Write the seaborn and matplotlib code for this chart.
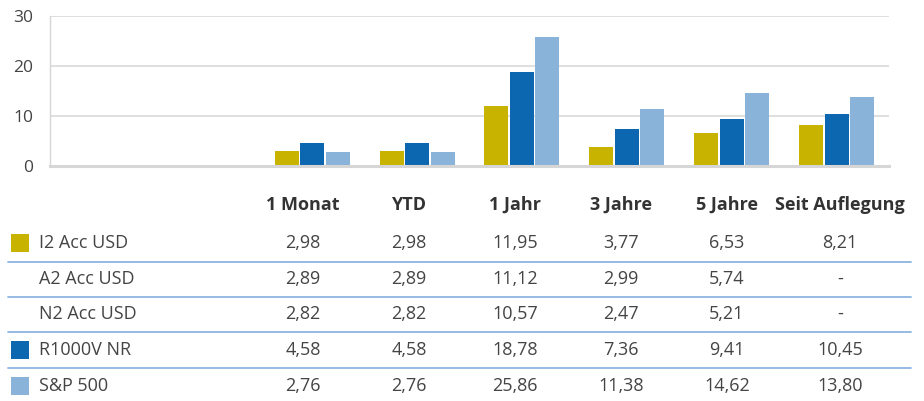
import matplotlib
matplotlib.use("Agg")
import matplotlib.pyplot as plt
import matplotlib.patches as mpatches
import seaborn as sns
import pandas as pd
import numpy as np

# ---------------- data ----------------
periods = ["1 Monat", "YTD", "1 Jahr", "3 Jahre", "5 Jahre", "Seit Auflegung"]
series_names = ["I2 Acc USD", "A2 Acc USD", "N2 Acc USD", "R1000V NR", "S&P 500"]
i2_acc = [2.98, 2.98, 11.95, 3.77, 6.53, 8.21]
a2_acc = [2.89, 2.89, 11.12, 2.99, 5.74, None]
n2_acc = [2.82, 2.82, 10.57, 2.47, 5.21, None]
r1000v = [4.58, 4.58, 18.78, 7.36, 9.41, 10.45]
sp500 = [2.76, 2.76, 25.86, 11.38, 14.62, 13.80]
charted = ["I2 Acc USD", "R1000V NR", "S&P 500"]
yticks = [0, 10, 20, 30]

colors = {"I2 Acc USD": "#C8B400", "R1000V NR": "#0C66B0", "S&P 500": "#8AB3DA"}
values = {"I2 Acc USD": i2_acc, "A2 Acc USD": a2_acc, "N2 Acc USD": n2_acc,
          "R1000V NR": r1000v, "S&P 500": sp500}

rows = []
for s in charted:
    for p, v in zip(periods, values[s]):
        rows.append({"period": p, "series": s, "value": v})
df = pd.DataFrame(rows)

# ---------------- figure ----------------
sns.set_theme(style="white")
plt.rcParams["font.family"] = ["Open Sans", "DejaVu Sans"]

W, H = 924, 401
fig = plt.figure(figsize=(W / 100, H / 100), dpi=100)

# bar axes (pixel layout)
x0, x1, ytop, ybot = 50, 889, 16, 166
ax = fig.add_axes([x0 / W, 1 - ybot / H, (x1 - x0) / W, (ybot - ytop) / H])

order = ["", " "] + periods
sns.barplot(data=df, x="period", y="value", hue="series", order=order,
            hue_order=charted, palette=colors, width=0.73, gap=0.06,
            saturation=1, edgecolor="none", linewidth=0, ax=ax, legend=False)

ax.set_ylim(0, 30)
ax.set_xlim(-0.5, len(order) - 0.5)
ax.set_yticks(yticks)
ax.set_yticklabels([str(t) for t in yticks], fontsize=12.5, color="#444444")
ax.tick_params(axis="y", length=0, pad=12)
ax.set_xticks([])
ax.set_xlabel("")
ax.set_ylabel("")
ax.yaxis.grid(True, color="#dcdcdc", linewidth=1.3)
ax.set_axisbelow(True)
for side in ["top", "right"]:
    ax.spines[side].set_visible(False)
ax.spines["left"].set_color("#d6d6d6")
ax.spines["left"].set_linewidth(1.0)
ax.spines["bottom"].set_color("#d6d6d6")
ax.spines["bottom"].set_linewidth(2.2)

# ---------------- table ----------------
tax = fig.add_axes([0, 0, 1, 1])
tax.set_xlim(0, W)
tax.set_ylim(H, 0)
tax.axis("off")

col_x = [303, 409, 515, 621, 727, 840]
header_y = 205
row_y = [243, 279, 314, 350, 386]
sep_y = [262, 297, 332, 368]

for cx, p in zip(col_x, periods):
    tax.text(cx, header_y, p, ha="center", va="center", fontsize=13,
             fontweight="bold", color="#333333")

def fmt(v):
    if v is None:
        return "-"
    return f"{v:.2f}".replace(".", ",")

for ry, name in zip(row_y, series_names):
    if name in colors:
        tax.add_patch(mpatches.Rectangle((11, ry - 9), 18, 18,
                                         facecolor=colors[name], edgecolor="none"))
    tax.text(39, ry, name, ha="left", va="center", fontsize=13, color="#444444")
    for cx, v in zip(col_x, values[name]):
        tax.text(cx, ry, fmt(v), ha="center", va="center", fontsize=13,
                 color="#444444")

for sy in sep_y:
    tax.plot([8, 911], [sy, sy], color="#8DB4E2", linewidth=1.3)

fig.savefig("out.png", dpi=100)
